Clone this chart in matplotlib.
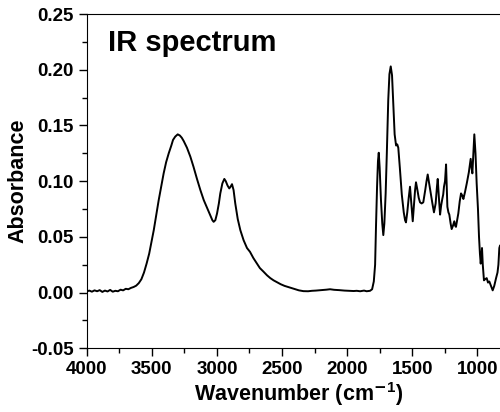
import matplotlib
matplotlib.use('Agg')
import matplotlib.pyplot as plt
from matplotlib.ticker import MultipleLocator

plt.rcParams['font.family'] = ['Liberation Sans', 'DejaVu Sans']
plt.rcParams['font.weight'] = 'bold'
plt.rcParams['mathtext.fontset'] = 'custom'
plt.rcParams['mathtext.rm'] = 'Liberation Sans:bold'
plt.rcParams['mathtext.bf'] = 'Liberation Sans:bold'
plt.rcParams['mathtext.default'] = 'bf'
plt.rcParams['axes.unicode_minus'] = False

# wavenumber (cm-1) and absorbance
wavenumber = [4000, 3980, 3960, 3940, 3920, 3900, 3880, 3860, 3840, 3820,
              3800, 3780, 3760, 3740, 3720, 3700, 3680, 3660, 3640, 3620,
              3600, 3580, 3560, 3540, 3520, 3500, 3485, 3465, 3447, 3428,
              3409, 3390, 3370, 3350, 3337, 3320, 3301, 3285, 3270, 3255,
              3230, 3204, 3180, 3153, 3127, 3101, 3075, 3051, 3035, 3025,
              3012, 2999, 2985, 2974, 2958, 2943, 2932, 2918, 2905, 2895,
              2884, 2872, 2859, 2840, 2820, 2795, 2769, 2746, 2720, 2692,
              2670, 2644, 2615, 2590, 2565, 2541, 2510, 2480, 2439, 2400,
              2370, 2336, 2300, 2270, 2240, 2200, 2160, 2131, 2100, 2060,
              2020, 1980, 1950, 1926, 1900, 1870, 1850, 1824, 1808, 1795,
              1785, 1778, 1770, 1763, 1757, 1750, 1740, 1730, 1722, 1714,
              1704, 1695, 1684, 1675, 1665, 1655, 1645, 1635, 1624, 1615,
              1607, 1595, 1580, 1565, 1555, 1548, 1538, 1527, 1517, 1507,
              1496, 1487, 1478, 1471, 1460, 1450, 1440, 1428, 1415, 1400,
              1390, 1381, 1370, 1358, 1345, 1333, 1320, 1310, 1304, 1295,
              1286, 1278, 1269, 1262, 1256, 1248, 1240, 1235, 1230, 1222,
              1215, 1205, 1197, 1187, 1177, 1170, 1164, 1155, 1146, 1135,
              1125, 1115, 1107, 1095, 1081, 1065, 1051, 1044, 1038, 1030,
              1023, 1014, 1005, 995, 987, 980, 974, 968, 964, 958,
              949, 940, 928, 918, 908, 895, 882, 870, 856, 845,
              838, 831, 826]
absorbance = [0.0010, 0.0018, 0.0008, 0.0020, 0.0012, 0.0022, 0.0006, 0.0018, 0.0010, 0.0024,
              0.0008, 0.0016, 0.0012, 0.0026, 0.0020, 0.0034, 0.0030, 0.0042, 0.0050, 0.0062,
              0.0085, 0.012, 0.018, 0.026, 0.035, 0.047, 0.056, 0.070, 0.083, 0.095,
              0.107, 0.117, 0.125, 0.132, 0.137, 0.140, 0.142, 0.141, 0.139, 0.136,
              0.130, 0.122, 0.113, 0.102, 0.092, 0.083, 0.076, 0.0695, 0.065, 0.0635,
              0.065, 0.071, 0.080, 0.089, 0.098, 0.102, 0.100, 0.096, 0.0935, 0.095,
              0.0973, 0.092, 0.080, 0.066, 0.056, 0.047, 0.040, 0.0366, 0.031, 0.026,
              0.022, 0.019, 0.0155, 0.013, 0.011, 0.0095, 0.0075, 0.006, 0.0045, 0.003,
              0.002, 0.0013, 0.0012, 0.0016, 0.0018, 0.0022, 0.0026, 0.0030, 0.0025, 0.0022,
              0.0018, 0.0016, 0.0014, 0.0016, 0.0012, 0.0018, 0.0012, 0.0016, 0.003, 0.010,
              0.025, 0.060, 0.095, 0.118, 0.1255, 0.112, 0.083, 0.062, 0.0516, 0.062,
              0.089, 0.125, 0.173, 0.196, 0.203, 0.195, 0.168, 0.142, 0.132, 0.133,
              0.130, 0.112, 0.088, 0.072, 0.065, 0.063, 0.072, 0.085, 0.095, 0.080,
              0.064, 0.078, 0.092, 0.099, 0.092, 0.085, 0.081, 0.080, 0.081, 0.092,
              0.100, 0.106, 0.098, 0.089, 0.080, 0.072, 0.080, 0.095, 0.102, 0.085,
              0.070, 0.078, 0.084, 0.088, 0.095, 0.100, 0.115, 0.095, 0.077, 0.072,
              0.070, 0.062, 0.057, 0.060, 0.064, 0.060, 0.059, 0.065, 0.071, 0.082,
              0.089, 0.087, 0.084, 0.090, 0.098, 0.108, 0.120, 0.112, 0.107, 0.125,
              0.142, 0.125, 0.098, 0.075, 0.050, 0.035, 0.026, 0.033, 0.040, 0.025,
              0.011, 0.012, 0.013, 0.009, 0.010, 0.006, 0.002, 0.006, 0.013, 0.018,
              0.025, 0.040, 0.042]

fig = plt.figure(figsize=(5, 4.12), dpi=100)
ax = fig.add_axes([0.1734, 0.1546, 0.8466, 0.8114])
ax.plot(wavenumber, absorbance, color='black', lw=1.4)

ax.set_xlim(4000, 749)
ax.set_ylim(-0.05, 0.25)
ax.xaxis.set_major_locator(MultipleLocator(500))
ax.xaxis.set_minor_locator(MultipleLocator(250))
ax.yaxis.set_major_locator(MultipleLocator(0.05))
ax.yaxis.set_minor_locator(MultipleLocator(0.025))
ax.yaxis.set_major_formatter(plt.FormatStrFormatter('%.2f'))
ax.tick_params(which='major', direction='out', length=6, width=1, labelsize=13.5)
ax.tick_params(which='minor', direction='out', length=3.5, width=1)
for lab in ax.get_xticklabels() + ax.get_yticklabels():
    lab.set_fontweight('bold')

ax.set_xlabel(r'Wavenumber (cm$^{\mathsf{-}1}$)', fontsize=15.5, fontweight='bold', labelpad=1)
ax.set_ylabel('Absorbance', fontsize=15.5, fontweight='bold', labelpad=2)
ax.text(0.05, 0.955, 'IR spectrum', transform=ax.transAxes, fontsize=21,
        fontweight='bold', va='top', ha='left')

fig.savefig('out.png', dpi=100)
